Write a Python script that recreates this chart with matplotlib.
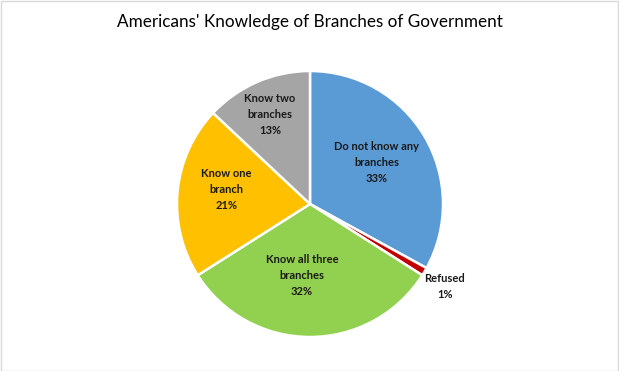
import matplotlib
matplotlib.use("Agg")
import matplotlib.pyplot as plt
from matplotlib.patches import Rectangle

categories = ["Do not know any\nbranches", "Refused", "Know all three\nbranches", "Know one\nbranch", "Know two\nbranches"]
values = [33, 1, 32, 21, 13]
pct_labels = ["33%", "1%", "32%", "21%", "13%"]
colors = ["#5B9BD5", "#C00000", "#92D050", "#FFC000", "#A5A5A5"]
# label placement (pie data units)
label_pos = [(0.50, 0.31), (1.015, -0.62), (-0.06, -0.54), (-0.63, 0.11), (-0.30, 0.67)]

W, H = 619, 371
fig = plt.figure(figsize=(W / 100, H / 100), dpi=100)
fig.patch.set_facecolor("white")

cx, cy, r = 310, 204, 133
ax = fig.add_axes([(cx - r) / W, (H - cy - r) / H, 2 * r / W, 2 * r / H])
ax.pie(values, colors=colors, startangle=90, counterclock=False, radius=1.0,
       wedgeprops=dict(edgecolor="white", linewidth=1.8))
ax.set_xlim(-1, 1)
ax.set_ylim(-1, 1)
ax.set_aspect("equal")
ax.axis("off")

for cat, pct, (x, y) in zip(categories, pct_labels, label_pos):
    ax.text(x, y, f"{cat}\n{pct}", ha="center", va="center", fontsize=8,
            fontweight="bold", color="#1a1a1a", family="Lato",
            linespacing=1.55, clip_on=False)

fig.text(0.5, 1 - 22 / H, "Americans' Knowledge of Branches of Government",
         ha="center", va="center", fontsize=12.3, family="Lato", color="black")

fig.patches.append(Rectangle((0.5 / W, 0.5 / H), 1 - 1.5 / W, 1 - 1.5 / H,
                             transform=fig.transFigure, fill=False,
                             edgecolor="#D9D9D9", linewidth=1))

fig.savefig("out.png", dpi=100)
